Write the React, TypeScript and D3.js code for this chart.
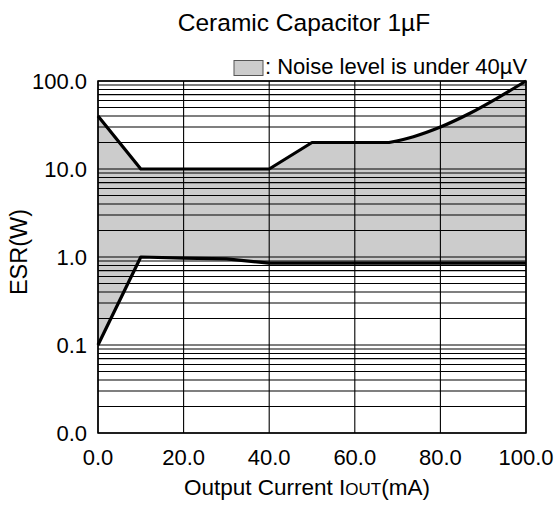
import React from "react";
import * as d3 from "d3";

const xTicks = [0, 20, 40, 60, 80, 100];
const xTickLabels = ["0.0", "20.0", "40.0", "60.0", "80.0", "100.0"];
const yTicks = [0.01, 0.1, 1, 10, 100];
const yTickLabels = ["0.0", "0.1", "1.0", "10.0", "100.0"];

// upper boundary: straight part, then curved tail
const upperStraightX = [0, 10, 40, 50, 68];
const upperStraightY = [40, 10, 10, 20, 20];
const upperCurveX = [68, 73.7, 80, 86.9, 93.2, 100];
const upperCurveY = [20, 23.3, 30, 43, 63.6, 100];
const lowerX = [0, 10, 20, 30, 40, 100];
const lowerY = [0.1, 1.0, 0.97, 0.95, 0.85, 0.85];

const W = 555;
const H = 506;
const m = { left: 98, right: 526, top: 81, bottom: 433 };

type P = [number, number];

export default function App() {
  const x = d3.scaleLinear().domain([0, 100]).range([m.left, m.right]);
  const y = d3.scaleLog().domain([0.01, 100]).range([m.bottom, m.top]);

  const upperA: P[] = upperStraightX.map((v, i) => [v, upperStraightY[i]]);
  const upperB: P[] = upperCurveX.map((v, i) => [v, upperCurveY[i]]);
  const lower: P[] = lowerX.map((v, i) => [v, lowerY[i]]);
  const line = d3
    .line<P>()
    .x((d) => x(d[0]))
    .y((d) => y(d[1]));
  const curve = d3
    .line<P>()
    .x((d) => x(d[0]))
    .y((d) => y(d[1]))
    .curve(d3.curveMonotoneX);

  const pA = line(upperA) || "";
  const pB = (curve(upperB) || "").replace(/^M/, "L");
  const pL = (line(lower.slice().reverse()) || "").replace(/^M/, "L");
  const upperPath = pA + pB;
  const areaPath = pA + pB + pL + "Z";

  const gridY: number[] = [];
  for (let e = -2; e < 2; e++) {
    for (let k = 1; k <= 9; k++) gridY.push(k * Math.pow(10, e));
  }
  gridY.push(100);

  const font = "'Liberation Sans', Arial, sans-serif";

  return (
    <svg width={W} height={H} style={{ position: "absolute", left: 0, top: 0 }} fontFamily={font}>
      <rect width={W} height={H} fill="#fff" />
      <text x={304} y={31} fontSize={24.5} textAnchor="middle">
        Ceramic Capacitor 1µF
      </text>
      <rect x={234} y={60.5} width={29} height={15} fill="#cccccc" stroke="#555" strokeWidth={1} />
      <text x={265} y={74} fontSize={22}>
        : Noise level is under 40µV
      </text>
      <path d={areaPath} fill="#cccccc" stroke="none" />
      {gridY.map((v, i) => (
        <line key={"gy" + i} x1={m.left} x2={m.right} y1={y(v)} y2={y(v)} stroke="#000" strokeWidth={1.1} />
      ))}
      {xTicks.map((v, i) => (
        <line key={"gx" + i} x1={x(v)} x2={x(v)} y1={m.top} y2={m.bottom} stroke="#000" strokeWidth={1.1} />
      ))}
      <path d={upperPath} fill="none" stroke="#000" strokeWidth={3.2} strokeLinejoin="round" />
      <path d={line(lower) || ""} fill="none" stroke="#000" strokeWidth={3.2} strokeLinejoin="round" />
      <rect x={m.left} y={m.top} width={m.right - m.left} height={m.bottom - m.top} fill="none" stroke="#000" strokeWidth={1.5} />
      {yTicks.map((v, i) => (
        <text key={"yl" + i} x={87} y={y(v)} dy="0.36em" fontSize={22} textAnchor="end">
          {yTickLabels[i]}
        </text>
      ))}
      {xTicks.map((v, i) => (
        <text key={"xl" + i} x={x(v)} y={465} fontSize={22} textAnchor="middle">
          {xTickLabels[i]}
        </text>
      ))}
      <text x={307} y={495} fontSize={22.5} textAnchor="middle">
        Output Current I<tspan fontSize={17}>OUT</tspan>(mA)
      </text>
      <text transform="translate(27,252) rotate(-90)" fontSize={23.5} textAnchor="middle">
        ESR(W)
      </text>
    </svg>
  );
}
